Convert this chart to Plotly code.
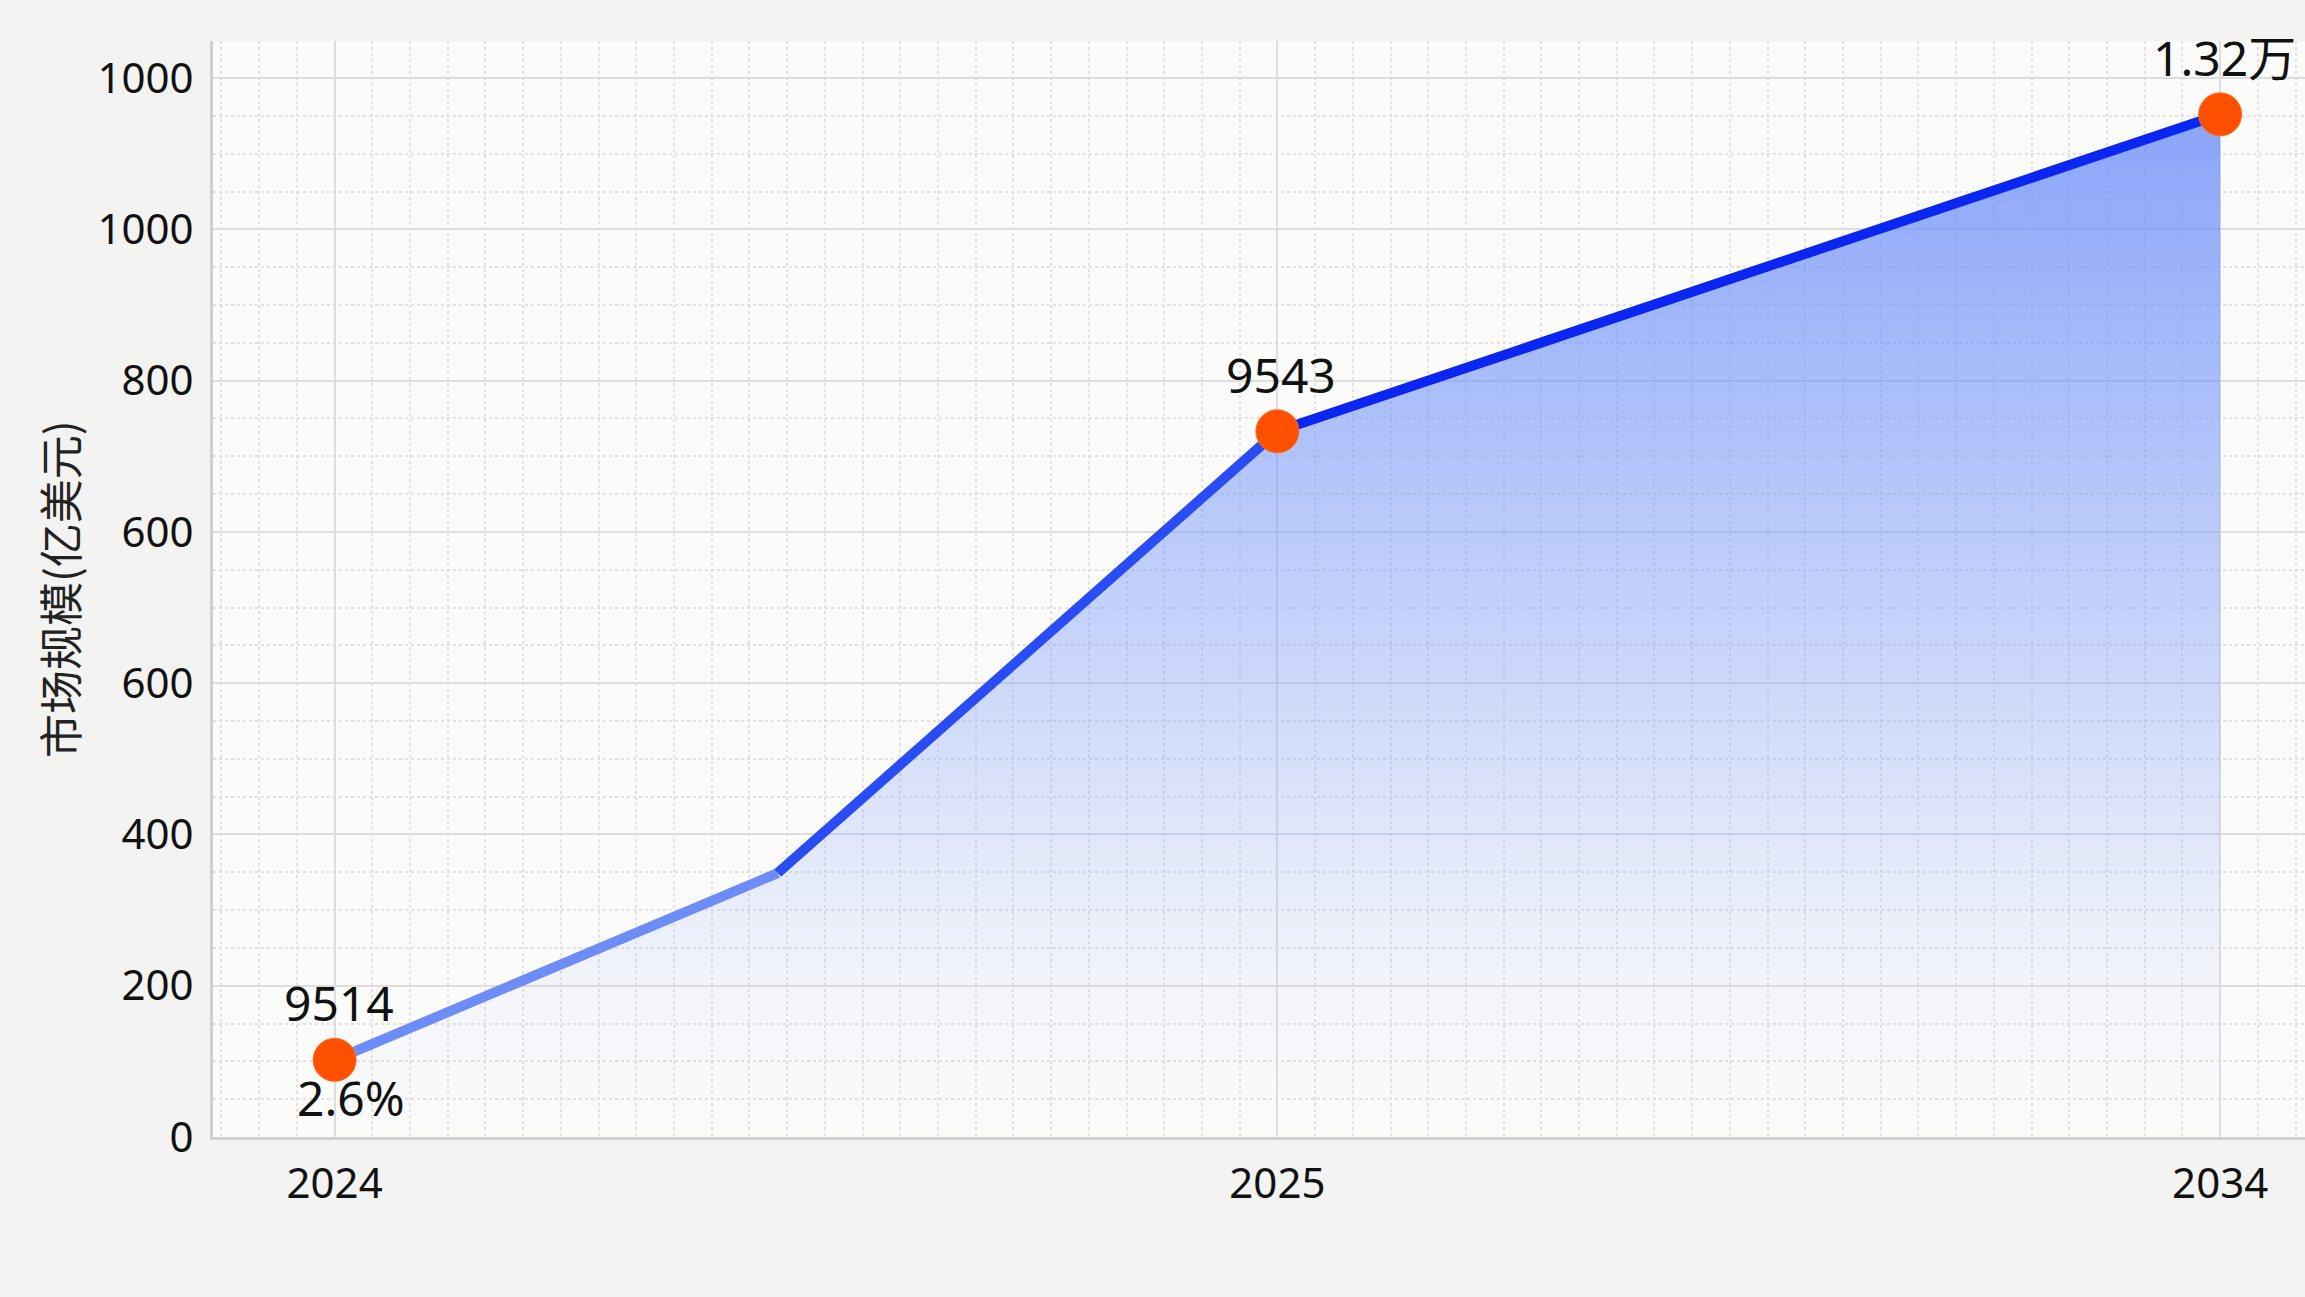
import plotly.graph_objects as go

# data
year_labels = ["2024", "2025", "2034"]
year_pos = [0, 1, 2]
x_pos = [0, 0.47, 1, 2]
market_size = [102, 349, 933, 1352]
marker_idx = [0, 2, 3]
value_labels = ["9514", "9543", "1.32万"]
growth_label = "2.6%"
ytick_pos = [0, 200, 400, 600, 800, 1000, 1200, 1400]
ytick_text = ["0", "200", "400", "600", "600", "800", "1000", "1000"]

seg_colors = ["#6e8cf7", "#2a4cf4", "#0a26f0"]

fig = go.Figure()

# gradient area under the curve
fig.add_trace(go.Scatter(
    x=x_pos, y=market_size, mode="none", fill="tozeroy",
    fillgradient=dict(type="vertical", colorscale=[
        [0.0, "rgba(130,160,250,0.0)"],
        [0.15, "rgba(130,160,250,0.07)"],
        [0.45, "rgba(120,152,250,0.36)"],
        [0.7, "rgba(110,145,250,0.55)"],
        [1.0, "rgba(100,135,250,0.75)"]]),
    hoverinfo="skip", showlegend=False))

# line drawn segment by segment so it darkens towards the right
for i in range(len(x_pos) - 1):
    fig.add_trace(go.Scatter(
        x=x_pos[i:i + 2], y=market_size[i:i + 2], mode="lines",
        line=dict(color=seg_colors[i], width=10),
        hoverinfo="skip", showlegend=False))

fig.add_trace(go.Scatter(
    x=[x_pos[i] for i in marker_idx], y=[market_size[i] for i in marker_idx],
    mode="markers",
    marker=dict(color="#ff5000", size=43, line=dict(color="#ff6a1a", width=1)),
    showlegend=False))

label_font = dict(family="Noto Sans, Noto Sans CJK SC", size=48, color="#111111")
for i, txt in zip(marker_idx, value_labels):
    fig.add_annotation(x=x_pos[i], y=market_size[i], text=txt, showarrow=False,
                       xshift=4, yshift=57, font=label_font)
fig.add_annotation(x=x_pos[0], y=market_size[0], text=growth_label, showarrow=False,
                   xshift=16, yshift=-38, font=label_font)

fig.add_annotation(xref="paper", yref="paper", x=-0.0736, y=0.5, text="市场规模(亿美元)",
                   textangle=-90, showarrow=False, xanchor="center", yanchor="middle",
                   font=dict(family="Noto Sans CJK SC", size=44, color="#222222"))

fig.update_layout(
    width=2305, height=1297,
    margin=dict(l=213, r=0, t=41, b=160),
    paper_bgcolor="#f3f3f1",
    plot_bgcolor="#fbfbfa",
    font=dict(family="Noto Sans", color="#111111"),
    showlegend=False,
    xaxis=dict(
        range=[-0.129, 2.09], tickvals=year_pos, ticktext=year_labels,
        tickfont=dict(size=42, family="Noto Sans"), ticks="", ticklabelstandoff=8,
        showgrid=True, gridcolor="#dedede", gridwidth=2,
        minor=dict(dtick=0.04, tick0=0, showgrid=True, gridcolor="#e2e2e2",
                   griddash="dot", gridwidth=1.5),
        showline=True, linecolor="#cfcfcf", linewidth=3, zeroline=False),
    yaxis=dict(
        range=[0, 1449], tickvals=ytick_pos, ticktext=ytick_text,
        tickfont=dict(size=42, family="Noto Sans"), ticks="", ticklabelstandoff=8,
        showgrid=True, gridcolor="#dedede", gridwidth=2,
        minor=dict(dtick=50, tick0=0, showgrid=True, gridcolor="#e2e2e2",
                   griddash="dot", gridwidth=1.5),
        showline=True, linecolor="#cfcfcf", linewidth=3, zeroline=False),
)

fig.write_html("out.html", config={"displayModeBar": False},
               post_script="document.body.style.margin='0';")
